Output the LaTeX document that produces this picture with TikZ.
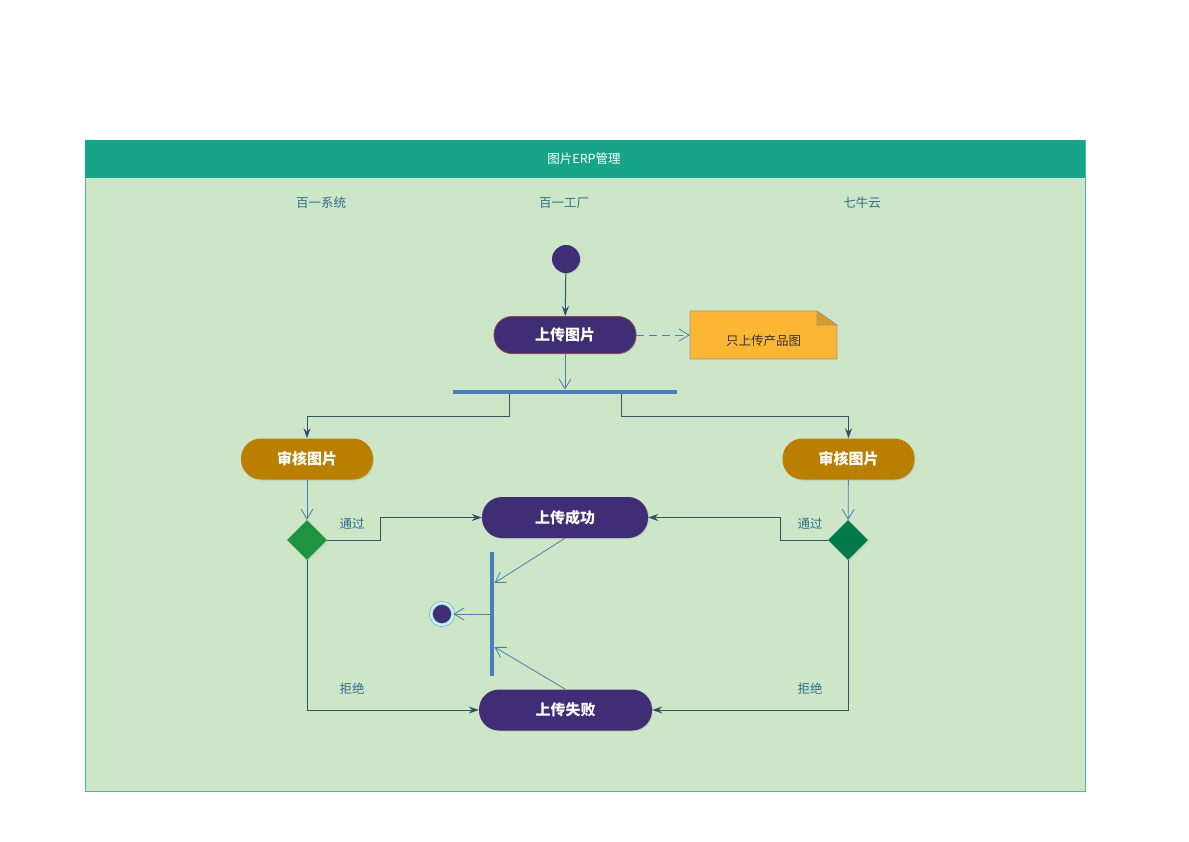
\documentclass[tikz,border=0pt]{standalone}
\usepackage{fontspec}
\setmainfont{Noto Sans CJK SC}
\usepackage{tikz}
\usetikzlibrary{arrows.meta,positioning,shadows,shapes.geometric}
\definecolor{head-teal}{HTML}{17A589}
\definecolor{lane-green}{HTML}{CDE6C8}
\definecolor{act-purple}{HTML}{3F2D76}
\definecolor{act-gold}{HTML}{BA7F00}
\definecolor{dec-green}{HTML}{1E9441}
\definecolor{dec-dark}{HTML}{007A4A}
\definecolor{bar-blue}{HTML}{4A7EBB}
\definecolor{line-dark}{HTML}{2F5568}
\definecolor{line-blue}{HTML}{4A7EB0}
\definecolor{lane-text}{HTML}{2E6E8E}
\definecolor{note-orange}{HTML}{FBB634}
\definecolor{rim-brown}{HTML}{8A4A4A}
\begin{document}
\begin{tikzpicture}[x=1pt,y=-1pt,
				act/.style={rectangle,rounded corners=19pt,minimum height=40pt,text=white,font=\fontsize{15}{15}\selectfont\bfseries,drop shadow={opacity=0.2,shadow xshift=1pt,shadow yshift=-1pt}},
				dec/.style={diamond,inner sep=0pt,drop shadow={opacity=0.2,shadow xshift=1pt,shadow yshift=-1pt}},
				bar/.style={rectangle,fill=bar-blue,inner sep=0pt},
				lane/.style={text=lane-text,font=\fontsize{12.5}{12.5}\selectfont},
				flow/.style={draw=line-dark,line width=1pt,-{Stealth[length=10pt,width=7pt]}},
				thin/.style={draw=line-blue,line width=0.8pt,-{Straight Barb[length=10pt,width=12pt]}}]
				\useasboundingbox (0,0) rectangle (1189,841);
				\fill[lane-green] (85,140) rectangle (1085,791);
				\draw[head-teal!70!lane-green,line width=0.5pt] (85,140) rectangle (1085,791);
				\fill[head-teal] (85,140) rectangle (1085,178);
				\node[text=white,font=\fontsize{12.5}{12.5}\selectfont] (title) at (584,159) {图片ERP管理};
				\node[lane] (sys) at (321,203) {百一系统};
				\node[lane] (fac) at (564,203) {百一工厂};
				\node[lane] (qiniu) at (862,203) {七牛云};
				\node[circle,fill=act-purple,minimum size=28pt,inner sep=0pt,drop shadow={opacity=0.2,shadow xshift=1pt,shadow yshift=-1pt}] (start) at (566,259) {};
				\node[act,fill=act-purple,draw=rim-brown,line width=0.8pt,minimum width=142pt,minimum height=37pt,rounded corners=18pt] (upload) at (565,335) {上传图片};
				\draw[fill=note-orange,draw=gray!80,line width=0.6pt] (690,311) -- (817,311) -- (837,325) -- (837,359) -- (690,359) -- cycle;
				\draw[fill=note-orange!85!black,draw=gray!80,line width=0.6pt] (817,311) -- (817,325) -- (837,325) -- cycle;
				\node[minimum width=147pt,minimum height=36pt,inner sep=0pt,font=\fontsize{12.5}{12.5}\selectfont,text=black!80] (note) at (763.5,341) {只上传产品图};
				\node[bar,minimum width=224pt,minimum height=4.5pt] (fork) at (565,392) {};
				\node[act,fill=act-gold,minimum width=132pt,minimum height=41pt,rounded corners=20pt] (auditl) at (307,459) {审核图片};
				\node[act,fill=act-gold,minimum width=132pt,minimum height=41pt,rounded corners=20pt] (auditr) at (848.5,459) {审核图片};
				\node[dec,fill=dec-green,minimum size=40pt] (decl) at (307,540) {};
				\node[dec,fill=dec-dark,minimum size=40pt] (decr) at (848,540) {};
				\node[act,fill=act-purple,minimum width=166pt,minimum height=41pt,rounded corners=20pt] (ok) at (565,517.5) {上传成功};
				\node[act,fill=act-purple,minimum width=173pt,minimum height=41pt,rounded corners=20pt] (fail) at (565.5,710) {上传失败};
				\node[bar,minimum width=4.5pt,minimum height=124pt] (join) at (492,614) {};
				\node[circle,fill=act-purple,minimum size=22pt,inner sep=0pt,draw=teal!50!lane-green,double=white!80!cyan,double distance=2.5pt,line width=0.6pt] (end) at (442,614) {};
				\draw[flow] (start) -- (upload);
				\draw[thin,dash pattern=on 8pt off 5pt] (upload.east) -- (upload.east -| note.west);
				\draw[thin] (upload) -- (fork);
				\draw[flow] ([xshift=-56pt]fork.south) -- ++(0,22) -| (auditl.north);
				\draw[flow] ([xshift=56pt]fork.south) -- ++(0,22) -| (auditr.north);
				\draw[thin] (auditl) -- (decl);
				\draw[thin] (auditr) -- (decr);
				\draw[flow] (decl.east) -- ++(53,0) |- (ok.west);
				\draw[flow] (decr.west) -- ++(-47,0) |- (ok.east);
				\draw[flow] (decl.south) |- (fail.west);
				\draw[flow] (decr.south) |- (fail.east);
				\node[lane] (passl) at (352,524) {通过};
				\node[lane] (passr) at (810,524) {通过};
				\node[lane] (rejl) at (352,689) {拒绝};
				\node[lane] (rejr) at (810,689) {拒绝};
				\draw[thin] (ok.south) -- ([yshift=31pt]join.east);
				\draw[thin] (fail.north) -- ([yshift=-33pt]join.east);
				\draw[thin] (join.west) -- (end);
				\end{tikzpicture}
\end{document}
